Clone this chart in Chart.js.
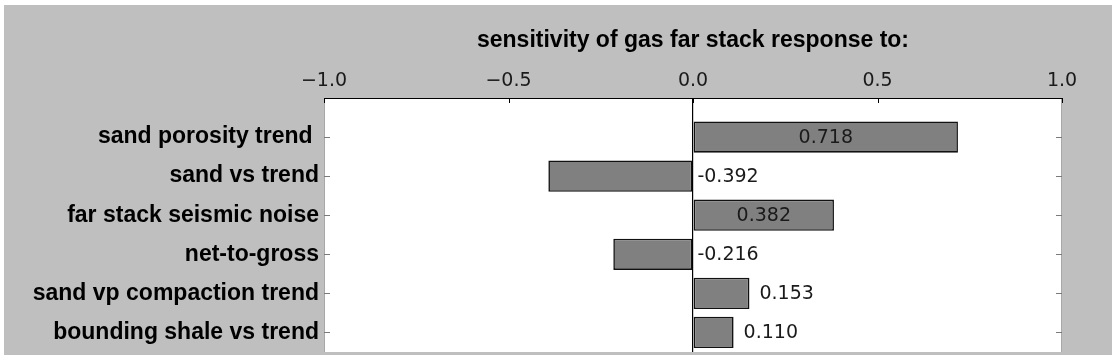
<!DOCTYPE html>
<html><head><meta charset="utf-8">
<script src="https://cdn.jsdelivr.net/npm/chart.js@4/dist/chart.umd.min.js"></script>
<style>html,body{margin:0;padding:0;background:#fff;} canvas{display:block;}</style>
</head><body>
<canvas id="c" width="1112" height="361"></canvas>
<script>
const categories = ["sand porosity trend ", "sand vs trend", "far stack seismic noise", "net-to-gross", "sand vp compaction trend", "bounding shale vs trend"];
const sensitivities = [0.718, -0.392, 0.382, -0.216, 0.153, 0.110];
const valueLabels = ["0.718", "-0.392", "0.382", "-0.216", "0.153", "0.110"];
const xTickValues = [-1.0, -0.5, 0.0, 0.5, 1.0];
const xTickLabels = ["\u22121.0", "\u22120.5", "0.0", "0.5", "1.0"];
const titleText = "sensitivity of gas far stack response to:";

const decor = {
  id: 'decor',
  beforeDraw(chart) {
    const {ctx, chartArea: a} = chart;
    ctx.save();
    ctx.fillStyle = '#ffffff';
    ctx.fillRect(0, 0, chart.width, chart.height);
    ctx.fillStyle = '#bfbfbf';
    ctx.fillRect(4, 5, chart.width - 4, 350);
    ctx.fillStyle = '#ffffff';
    ctx.fillRect(a.left, a.top, a.right - a.left, a.bottom - a.top);
    ctx.restore();
  },
  afterDatasetsDraw(chart) {
    const {ctx} = chart;
    const meta = chart.getDatasetMeta(0);
    ctx.save();
    ctx.font = '19px "DejaVu Sans"';
    ctx.fillStyle = '#1a1a1a';
    ctx.textBaseline = 'middle';
    meta.data.forEach((el, i) => {
      const v = sensitivities[i];
      const p = el.getProps(['x', 'y', 'base'], true);
      let tx, align;
      if (v > 0.3) { tx = (p.x + p.base) / 2; align = 'center'; }
      else if (v > 0) { tx = p.x + 10; align = 'left'; }
      else { tx = p.base + 5; align = 'left'; }
      ctx.textAlign = align;
      ctx.fillText(valueLabels[i], tx, p.y + 1);
    });
    ctx.restore();
  },
  afterDraw(chart) {
    const {ctx, chartArea: a} = chart;
    const xs = chart.scales.x, ys = chart.scales.y;
    ctx.save();
    ctx.strokeStyle = '#a8a8a8';
    ctx.lineWidth = 1;
    ctx.beginPath();
    ctx.moveTo(a.left + 0.5, a.top); ctx.lineTo(a.left + 0.5, a.bottom);
    ctx.moveTo(a.right - 0.5, a.top); ctx.lineTo(a.right - 0.5, a.bottom);
    ctx.stroke();
    ctx.strokeStyle = '#000';
    ctx.beginPath();
    ctx.moveTo(a.left, a.top + 0.5); ctx.lineTo(a.right, a.top + 0.5);
    ctx.stroke();
    ctx.beginPath();
    xs.ticks.forEach(t => {
      const px = Math.round(xs.getPixelForValue(t.value)) + 0.5;
      ctx.moveTo(px, a.top); ctx.lineTo(px, a.top + 5);
    });
    ctx.stroke();
    ctx.strokeStyle = '#7a7a7a';
    ctx.beginPath();
    ys.ticks.forEach(t => {
      const py = Math.round(ys.getPixelForValue(t.value)) + 0.5;
      ctx.moveTo(a.left, py); ctx.lineTo(a.left + 6, py);
      ctx.moveTo(a.right - 6, py); ctx.lineTo(a.right, py);
    });
    ctx.stroke();
    ctx.restore();
  }
};

new Chart(document.getElementById('c'), {
  type: 'bar',
  data: {
    datasets: [{
      data: sensitivities.map((v, i) => ({x: v, y: i})),
      backgroundColor: '#808080',
      borderColor: '#111111',
      borderWidth: 1.6,
      borderSkipped: false,
      barPercentage: 0.8,
      categoryPercentage: 1.0
    }]
  },
  options: {
    indexAxis: 'y',
    responsive: false,
    animation: false,
    events: [],
    layout: {padding: {left: 0, top: 0, right: 50, bottom: 9}},
    plugins: {legend: {display: false}, tooltip: {enabled: false}},
    scales: {
      x: {
        type: 'linear',
        position: 'top',
        min: -1, max: 1,
        offset: false,
        afterBuildTicks: (s) => { s.ticks = xTickValues.map(v => ({value: v})); },
        afterFit: (s) => { s.height = 98; s.paddingLeft = 0; s.paddingRight = 0; },
        ticks: {
          callback: (v) => xTickLabels[xTickValues.indexOf(v)],
          font: {family: 'DejaVu Sans', size: 19},
          color: '#1a1a1a',
          padding: 6,
          maxRotation: 0
        },
        grid: {
          offset: false,
          drawOnChartArea: true,
          drawTicks: false,
          color: (c) => (c.tick && c.tick.value === 0 ? '#000000' : 'rgba(0,0,0,0)'),
          lineWidth: 1.2
        },
        border: {display: false},
        title: {
          display: true,
          text: titleText,
          color: '#000',
          font: {family: 'Liberation Sans', weight: 'bold', size: 23},
          padding: {top: 27, bottom: 0}
        }
      },
      y: {
        type: 'linear',
        reverse: true,
        min: -1, max: 5.5,
        offset: false,
        afterBuildTicks: (s) => { s.ticks = categories.map((c, i) => ({value: i})); },
        afterFit: (s) => { s.width = 324; s.paddingTop = 0; s.paddingBottom = 0; },
        ticks: {
          callback: (v) => categories[v] ?? '',
          font: {family: 'Liberation Sans', weight: 'bold', size: 23},
          color: '#000',
          padding: 5
        },
        grid: {display: false, drawTicks: false, offset: false},
        border: {display: false}
      }
    }
  },
  plugins: [decor]
});
</script>
</body></html>
